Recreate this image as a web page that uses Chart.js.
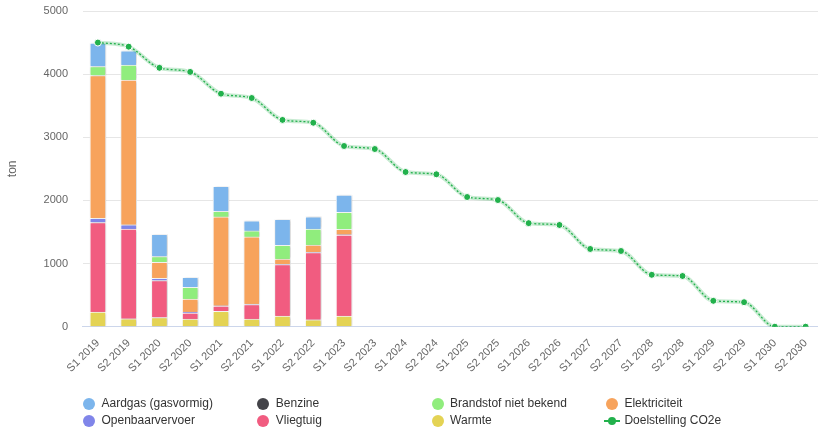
<!DOCTYPE html>
<html>
<head>
<meta charset="utf-8">
<script src="https://cdn.jsdelivr.net/npm/chart.js@4/dist/chart.umd.min.js"></script>
<style>
  html, body { margin: 0; padding: 0; background: #fff; overflow: hidden; width: 818px; height: 432px; }
  #wrap { position: absolute; left: 0; top: 0; width: 826px; height: 432px; }
  #legend { position: absolute; left: 83px; top: 395px; width: 700px; font-family: "Liberation Sans", Arial, sans-serif; font-size: 12px; color: #333; }
  .item { position: absolute; height: 17px; line-height: 17px; white-space: nowrap; }
  .sym { position: absolute; left: 0; top: 2.5px; width: 12px; height: 12px; border-radius: 50%; }
  .lsym { position: absolute; left: -2px; top: 8px; width: 16px; height: 0; border-top: 2px dashed #22b14c; }
  .ldot { position: absolute; left: 2px; top: 5px; width: 8px; height: 8px; border-radius: 50%; background: #22b14c; }
  .txt { position: absolute; left: 18.5px; top: 0; }
</style>
</head>
<body>
<div id="wrap"><canvas id="c"></canvas></div>
<div id="legend"></div>
<script>
const categories = ["S1 2019","S2 2019","S1 2020","S2 2020","S1 2021","S2 2021","S1 2022","S2 2022","S1 2023","S2 2023","S1 2024","S2 2024","S1 2025","S2 2025","S1 2026","S2 2026","S1 2027","S2 2027","S1 2028","S2 2028","S1 2029","S2 2029","S1 2030","S2 2030"];

const aardgas         = [372, 223, 354, 158, 396, 159, 412, 195, 274];
const benzine         = [0, 0, 0, 0, 0, 0, 0, 0, 0];
const brandstof       = [143, 238, 89, 185, 90, 95, 217, 253, 269];
const elektriciteit   = [2263, 2294, 256, 206, 1409, 1065, 85, 117, 86];
const openbaarvervoer = [65, 65, 35, 18, 5, 5, 5, 5, 5];
const vliegtuig       = [1420, 1423, 585, 95, 80, 230, 812, 1062, 1282];
const warmte          = [230, 125, 145, 120, 245, 122, 170, 110, 170];

const doelstelling = [4500, 4435, 4100, 4035, 3690, 3622, 3275, 3230, 2862, 2814, 2450, 2414, 2054, 2006, 1640, 1611, 1231, 1199, 822, 803, 410, 388, 0, 0];

const yTicks = [0, 1000, 2000, 3000, 4000, 5000];

const barSeries = [
  { name: "Aardgas (gasvormig)", data: aardgas, color: "#7cb5ec" },
  { name: "Benzine", data: benzine, color: "#434348" },
  { name: "Brandstof niet bekend", data: brandstof, color: "#90ed7d" },
  { name: "Elektriciteit", data: elektriciteit, color: "#f7a35c" },
  { name: "Openbaarvervoer", data: openbaarvervoer, color: "#8085e9" },
  { name: "Vliegtuig", data: vliegtuig, color: "#f15c80" },
  { name: "Warmte", data: warmte, color: "#e4d354" }
];
const lineName = "Doelstelling CO2e";
const lineColor = "#22b14c";

// Chart.js stacks first dataset at the bottom: reverse so Warmte is at the bottom
const barDatasets = barSeries.slice().reverse().map(s => ({
  type: 'bar',
  label: s.name,
  data: s.data,
  backgroundColor: s.color,
  borderColor: '#ffffff',
  borderWidth: 1,
  barThickness: 16,
  stack: 'bars',
  order: 2
}));

const shadowPlugin = {
  id: 'barShadow',
  beforeDatasetDraw(chart, args) {
    const ds = chart.data.datasets[args.index];
    if (ds.type === 'bar') {
      const ctx = chart.ctx;
      ctx.save();
      ctx.shadowColor = 'rgba(0,0,0,0.22)';
      ctx.shadowBlur = 3;
      ctx.shadowOffsetX = 1;
      ctx.shadowOffsetY = 0;
    }
  },
  afterDatasetDraw(chart, args) {
    const ds = chart.data.datasets[args.index];
    if (ds.type === 'bar') chart.ctx.restore();
  }
};

const font = "'Liberation Sans', Arial, sans-serif";

new Chart(document.getElementById('c'), {
  data: {
    labels: categories,
    datasets: [
      {
        type: 'line',
        label: lineName,
        data: doelstelling,
        borderColor: lineColor,
        borderWidth: 1.3,
        borderDash: [2, 2],
        cubicInterpolationMode: 'monotone',
        pointRadius: 3.5,
        pointBackgroundColor: lineColor,
        pointBorderColor: '#ffffff',
        pointBorderWidth: 1,
        fill: false,
        stack: 'line',
        order: 0
      },
      {
        type: 'line',
        label: '_halo',
        data: doelstelling,
        borderColor: 'rgba(34,177,76,0.25)',
        borderWidth: 4,
        cubicInterpolationMode: 'monotone',
        pointRadius: 0,
        fill: false,
        stack: 'halo',
        order: 1
      },
      ...barDatasets
    ]
  },
  plugins: [shadowPlugin],
  options: {
    responsive: true,
    maintainAspectRatio: false,
    animation: false,
    layout: { padding: { top: 11, right: 1.7, left: 0, bottom: 0 } },
    plugins: {
      legend: { display: false },
      tooltip: { enabled: false }
    },
    scales: {
      x: {
        stacked: true,
        offset: true,
        grid: { display: false, drawTicks: false },
        border: { display: true, color: '#ccd6eb', width: 1 },
        ticks: {
          color: '#666666',
          font: { family: font, size: 11 },
          maxRotation: 45,
          minRotation: 45,
          autoSkip: false,
          padding: 10
        },
        afterFit(scale) { scale.height = 105.3; scale.paddingLeft = 0; scale.paddingRight = 0; }
      },
      y: {
        stacked: true,
        min: 0,
        max: 5000,
        afterBuildTicks(scale) { scale.ticks = yTicks.map(v => ({ value: v })); },
        grid: {
          color: ctx => (ctx.tick && ctx.tick.value === 0) ? 'rgba(0,0,0,0)' : '#e6e6e6',
          drawTicks: false
        },
        border: { display: false },
        ticks: {
          color: '#666666',
          font: { family: font, size: 11 },
          padding: 14.5,
          callback: v => String(v)
        },
        title: {
          display: true,
          text: 'ton',
          color: '#666666',
          font: { family: font, size: 12 },
          padding: { top: 5, bottom: 0 }
        },
        afterFit(scale) { scale.width = 82.5; scale.paddingTop = 0; scale.paddingBottom = 0; }
      }
    }
  }
});

// Legend (HTML, real text), Highcharts-like order
const legend = document.getElementById('legend');
const colW = 174.3, rowH = 17;
const legendItems = barSeries.map(s => ({ name: s.name, color: s.color, line: false }))
  .concat([{ name: lineName, color: lineColor, line: true }]);
legendItems.forEach((it, i) => {
  const col = i % 4, row = Math.floor(i / 4);
  const el = document.createElement('div');
  el.className = 'item';
  el.style.left = (col * colW) + 'px';
  el.style.top = (row * rowH) + 'px';
  if (it.line) {
    el.innerHTML = '<span class="lsym"></span><span class="ldot"></span>';
  } else {
    el.innerHTML = '<span class="sym" style="background:' + it.color + '"></span>';
  }
  const t = document.createElement('span');
  t.className = 'txt';
  t.textContent = it.name;
  el.appendChild(t);
  legend.appendChild(el);
});
</script>
</body>
</html>
